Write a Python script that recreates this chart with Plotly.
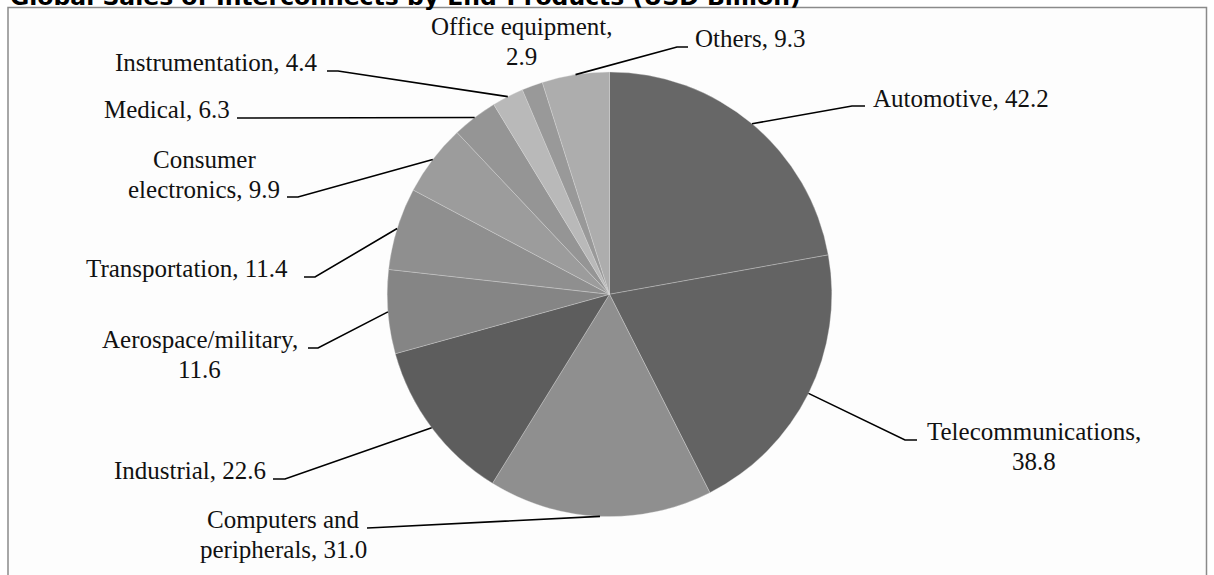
import math
import plotly.graph_objects as go

# ---- data ----
categories = ["Automotive", "Telecommunications", "Computers and peripherals", "Industrial",
              "Aerospace/military", "Transportation", "Consumer electronics", "Medical",
              "Instrumentation", "Office equipment", "Others"]
values = [42.2, 38.8, 31.0, 22.6, 11.6, 11.4, 9.9, 6.3, 4.4, 2.9, 9.3]
colors = ["#676767", "#636363", "#8f8f8f", "#5d5d5d", "#858585", "#8f8f8f",
          "#9c9c9c", "#959595", "#b9b9b9", "#999999", "#adadad"]
title_text = "Global Sales of Interconnects by End-Products (USD Billion)"

# ---- layout (pixels) ----
W, H = 1214, 575
CX, CY, R = 609.5, 294.3, 222.3
LINE_GAP = 30
FONT = "Liberation Serif"
FS = 25

# per-slice label layout, same order as categories
# x: anchor x, base: first-line baseline, xa: x anchor, brk: break after n words,
# end: leader end near label, elbow: leader elbow
label_layout = [
    dict(x=871, base=107, xa="left", brk=0, end=(865, 106), elbow=(852, 106)),
    dict(x=1034, base=440, xa="center", brk=1, end=(917, 440), elbow=(905, 440)),
    dict(x=283, base=528, xa="center", brk=2, end=(367, 528), elbow=(378, 527.5)),
    dict(x=268, base=479, xa="right", brk=0, end=(273, 479), elbow=(285, 479)),
    dict(x=200, base=348, xa="center", brk=1, end=(308, 348), elbow=(318, 348)),
    dict(x=290, base=277, xa="right", brk=0, end=(304, 277), elbow=(315, 277)),
    dict(x=204, base=168, xa="center", brk=1, end=(287, 197), elbow=(298, 197)),
    dict(x=232, base=118, xa="right", brk=0, end=(237, 118), elbow=(248, 118)),
    dict(x=320, base=71, xa="right", brk=0, end=(327, 71), elbow=(338, 71)),
    dict(x=521, base=35, xa="center", brk=2, end=None, elbow=None),
    dict(x=693, base=47, xa="left", brk=0, end=(688, 47), elbow=(677, 47)),
]


def px(x):
    return x / W


def py(y):
    return 1 - y / H


fig = go.Figure()
fig.add_trace(go.Pie(
    labels=categories, values=values, sort=False, direction="clockwise", rotation=0,
    marker=dict(colors=colors, line=dict(color="rgba(225,225,225,0.55)", width=0.6)),
    textinfo="none", hoverinfo="label+value", showlegend=False,
    domain=dict(x=[px(CX - R), px(CX + R)], y=[py(CY + R), py(CY - R)]),
))

shapes = [dict(type="rect", xref="paper", yref="paper", x0=px(8), x1=px(1206.5),
               y0=py(590), y1=py(7.5), line=dict(color="#8a8a8a", width=1.5),
               fillcolor="#fdfdfd", layer="below")]
annotations = []

total = sum(values)
cum = 0.0
for cat, val, lay in zip(categories, values, label_layout):
    mid = (cum + val / 2) / total * 2 * math.pi
    cum += val
    sx = CX + R * math.sin(mid)
    sy = CY - R * math.cos(mid)
    text = f"{cat}, {val:.1f}"
    words = text.split(" ")
    lines = [text] if lay["brk"] == 0 else [" ".join(words[:lay["brk"]]), " ".join(words[lay["brk"]:])]
    for i, ln in enumerate(lines):
        base = lay["base"] + i * LINE_GAP
        annotations.append(dict(
            x=px(lay["x"]), y=py(base - 0.34 * FS), xref="paper", yref="paper",
            text=ln, showarrow=False, xanchor=lay["xa"], yanchor="middle",
            font=dict(family=FONT, size=FS, color="#111111")))
    if lay["end"] is not None:
        ex, ey = lay["end"]
        bx, by = lay["elbow"]
        path = f"M {px(sx)} {py(sy)} L {px(bx)} {py(by)} L {px(ex)} {py(ey)}"
        shapes.append(dict(type="path", xref="paper", yref="paper", path=path,
                           line=dict(color="#000000", width=1.6), layer="above"))

annotations.append(dict(
    x=px(8), y=py(5 - 0.346 * 23.5), xref="paper", yref="paper", text=title_text,
    showarrow=False, xanchor="left", yanchor="middle",
    font=dict(family="DejaVu Sans", size=23.5, color="#000000", weight="bold")))

fig.update_layout(
    width=W, height=H, margin=dict(l=0, r=0, t=0, b=0),
    paper_bgcolor="#ffffff", plot_bgcolor="#ffffff",
    shapes=shapes, annotations=annotations, showlegend=False,
)

fig.write_html("out.html")
